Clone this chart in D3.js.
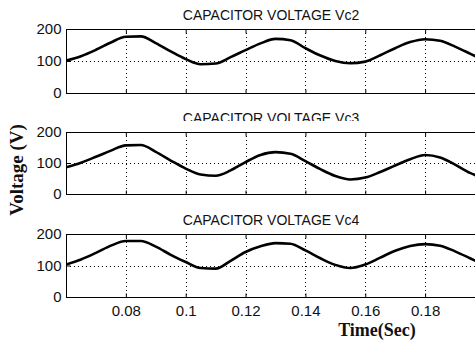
<!DOCTYPE html>
<html>
<head>
<meta charset="utf-8">
<script src="https://cdn.jsdelivr.net/npm/d3@7"></script>
<style>
  body { margin: 0; background: #fff; }
  svg { display: block; }
</style>
</head>
<body>
<svg id="chart"></svg>
<script>
// sample times (s) and capacitor voltages (V)
const timeSec = [0.060, 0.065, 0.070, 0.075, 0.080, 0.085, 0.090, 0.095, 0.100, 0.105,
                 0.110, 0.115, 0.120, 0.125, 0.130, 0.135, 0.140, 0.145, 0.150, 0.155,
                 0.160, 0.165, 0.170, 0.175, 0.180, 0.185, 0.190, 0.195, 0.200];
const vc2 = [101, 115, 135, 158, 176, 177, 156, 130, 106, 90,
             92, 112, 134, 155, 169, 165, 140, 117, 100, 93,
             98, 118, 140, 159, 168, 163, 145, 123, 100];
const vc3 = [86, 101, 120, 140, 157, 158, 136, 108, 82, 63,
             59, 76, 103, 126, 135, 130, 106, 80, 58, 47,
             53, 71, 92, 112, 126, 118, 95, 68, 50];
const vc4 = [103, 119, 140, 163, 178, 178, 160, 134, 111, 92,
             90, 115, 143, 161, 171, 169, 148, 123, 102, 92,
             103, 125, 147, 162, 168, 163, 145, 123, 100];
const panelTitles = ["CAPACITOR VOLTAGE Vc2", "CAPACITOR VOLTAGE Vc3", "CAPACITOR VOLTAGE Vc4"];
const yTicks = [0, 100, 200];
const xTicks = [0.08, 0.1, 0.12, 0.14, 0.16, 0.18];

const width = 475, height = 344;
const svg = d3.select("#chart").attr("width", width).attr("height", height);

const x = d3.scaleLinear().domain([0.06, 0.197]).range([66, 476]);

const panels = [
  { title: panelTitles[0], values: vc2, top: 29, bottom: 93 },
  { title: panelTitles[1], values: vc3, top: 132, bottom: 194 },
  { title: panelTitles[2], values: vc4, top: 234, bottom: 297 }
];

const tickFont = "'Liberation Sans', Arial, sans-serif";
const labelFont = "'Liberation Serif', 'Times New Roman', serif";

panels.forEach((p, i) => {
  const y = d3.scaleLinear().domain([0, 200]).range([p.bottom, p.top]);
  const g = svg.append("g");

  // dotted grid
  g.selectAll("line.vgrid")
    .data(xTicks)
    .enter()
    .append("line")
    .attr("class", "vgrid")
    .attr("x1", d => Math.round(x(d)) + 0.5)
    .attr("x2", d => Math.round(x(d)) + 0.5)
    .attr("y1", p.top)
    .attr("y2", p.bottom)
    .attr("stroke", "#000")
    .attr("stroke-dasharray", "1,3");

  g.selectAll("line.hgrid")
    .data(yTicks.filter(d => d > 0 && d < 200))
    .enter()
    .append("line")
    .attr("class", "hgrid")
    .attr("x1", x.range()[0])
    .attr("x2", x.range()[1])
    .attr("y1", d => Math.round(y(d)) + 0.5)
    .attr("y2", d => Math.round(y(d)) + 0.5)
    .attr("stroke", "#000")
    .attr("stroke-dasharray", "1,3");

  // clip the curve to the axes box
  const clipId = "clip" + i;
  svg.append("clipPath").attr("id", clipId)
    .append("rect")
    .attr("x", x.range()[0])
    .attr("y", p.top)
    .attr("width", x.range()[1] - x.range()[0])
    .attr("height", p.bottom - p.top);

  const line = d3.line()
    .x((d, k) => x(timeSec[k]))
    .y(d => y(d))
    .curve(d3.curveMonotoneX);

  g.append("path")
    .datum(p.values)
    .attr("clip-path", `url(#${clipId})`)
    .attr("d", line)
    .attr("fill", "none")
    .attr("stroke", "#000")
    .attr("stroke-width", 2.6)
    .attr("stroke-linejoin", "round");

  // box
  g.append("rect")
    .attr("x", x.range()[0] + 0.5)
    .attr("y", p.top + 0.5)
    .attr("width", x.range()[1] - x.range()[0])
    .attr("height", p.bottom - p.top)
    .attr("fill", "none")
    .attr("stroke", "#000")
    .attr("stroke-width", 1);

  // y axis, ticks inward
  const yAxis = g.append("g")
    .attr("transform", `translate(${x.range()[0] + 0.5},0)`)
    .call(d3.axisLeft(y).tickValues(yTicks).tickSize(-4).tickPadding(5));
  yAxis.select(".domain").remove();
  yAxis.selectAll("text")
    .attr("font-family", tickFont)
    .attr("font-size", "15px")
    .attr("fill", "#111");

  // x ticks top and bottom, labels only under the last panel
  const isLast = i === panels.length - 1;
  const xAxis = g.append("g")
    .attr("transform", `translate(0,${p.bottom + 0.5})`)
    .call(d3.axisBottom(x).tickValues(xTicks).tickSize(-4).tickPadding(8)
      .tickFormat(d => isLast ? String(+d.toFixed(2)) : ""));
  xAxis.select(".domain").remove();
  xAxis.selectAll("text")
    .attr("font-family", tickFont)
    .attr("font-size", "15px")
    .attr("fill", "#111");

  const xTop = g.append("g")
    .attr("transform", `translate(0,${p.top + 0.5})`)
    .call(d3.axisTop(x).tickValues(xTicks).tickSize(-4).tickFormat(""));
  xTop.select(".domain").remove();

  // title
  const title = g.append("text")
    .attr("x", 271)
    .attr("y", p.top - 9)
    .attr("text-anchor", "middle")
    .attr("font-family", tickFont)
    .attr("font-size", "14px")
    .attr("fill", "#111")
    .text(p.title);

  // the middle title has its lower edge cut off in the original
  if (i === 1) {
    svg.append("clipPath").attr("id", "titleClip")
      .append("rect")
      .attr("x", 0).attr("y", 0)
      .attr("width", width).attr("height", p.top - 11);
    title.attr("clip-path", "url(#titleClip)");
  }
});

// axis labels
svg.append("text")
  .attr("transform", "translate(23,170) rotate(-90)")
  .attr("text-anchor", "middle")
  .attr("font-family", labelFont)
  .attr("font-weight", "bold")
  .attr("font-size", "19px")
  .attr("fill", "#111")
  .text("Voltage (V)");

svg.append("text")
  .attr("x", 377)
  .attr("y", 336)
  .attr("text-anchor", "middle")
  .attr("font-family", labelFont)
  .attr("font-weight", "bold")
  .attr("font-size", "18px")
  .attr("fill", "#111")
  .text("Time(Sec)");
</script>
</body>
</html>
